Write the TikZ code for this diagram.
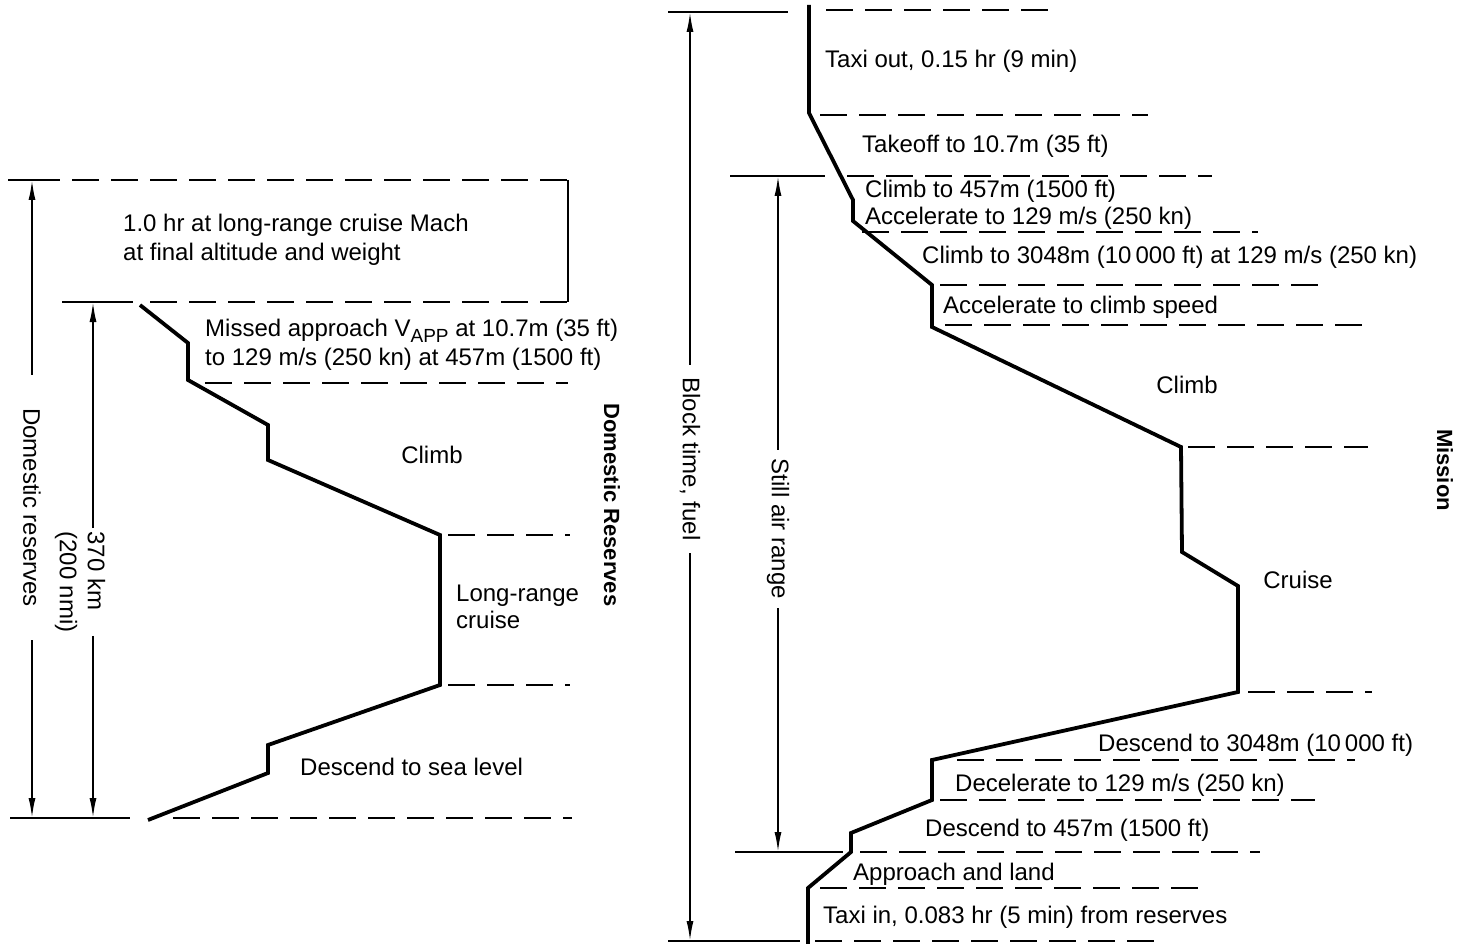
\documentclass[tikz,border=0pt]{standalone}
\usepackage{fontspec}
\setmainfont{Liberation Sans}
\usetikzlibrary{arrows.meta}
\begin{document}
\begin{tikzpicture}[x=1pt,y=-1pt,
  profile/.style={line width=3.8pt, line join=miter},
  guide/.style={line width=2.2pt, dash pattern=on 27pt off 12pt},
  solidref/.style={line width=2.2pt},
  dim/.style={line width=1.8pt, -{Latex[length=20pt,width=7pt]}},
  lbl/.style={font=\fontsize{24}{28}\selectfont, inner sep=0pt, anchor=base west},
  clbl/.style={font=\fontsize{24}{28}\selectfont, inner sep=0pt, anchor=base},
  vlbl/.style={font=\fontsize{24}{28}\selectfont, inner ysep=0pt, rotate=-90},
  title/.style={font=\fontsize{22}{26}\selectfont\bfseries, inner sep=0pt, rotate=-90}
]
\useasboundingbox (0,0) rectangle (1464,944);
\fill[white] (0,0) rectangle (1464,944);

% ================= LEFT: Domestic reserves =================
% reference lines
\draw[solidref] (8,180) -- (60,180);
\draw[guide] (72,180) -- (568,180);
\draw[solidref] (568,180) -- (568,302);
\draw[solidref] (62,302) -- (133,302);
\draw[guide] (150,302) -- (568,302);
\draw[guide] (205,383) -- (568,383);
\draw[guide] (448,535) -- (570,535);
\draw[guide] (448,685) -- (570,685);
\draw[solidref] (10,818) -- (130,818);
\draw[guide] (173,818) -- (572,818);

% profile
\draw[profile] (140,305) -- (188,343) -- (188,380) -- (268,425) -- (268,460)
  -- (440,535) -- (440,685) -- (268,745) -- (268,773) -- (148,820);

% dimension arrows
\coordinate (drTop) at (32,180);
\coordinate (drBot) at (32,818);
\node[vlbl, inner xsep=33pt] (dr) at (32,507.5) {Domestic reserves};
\draw[dim] (dr.west) -- (drTop);
\draw[dim] (dr.east) -- (drBot);

\coordinate (kmTop) at (93,302);
\coordinate (kmBot) at (93,818);
\node[vlbl, inner xsep=3pt, align=left] (km) at (80,582) {370 km\\(200 nmi)};
\draw[dim] (km.west -| kmTop) -- (kmTop);
\draw[dim] (km.east -| kmBot) -- (kmBot);

% texts
\node[lbl] (t1) at (123,232) {1.0 hr at long-range cruise Mach};
\node[lbl] (t2) at (123,260) {at final altitude and weight};
\node[lbl] (t3) at (205,336) {Missed approach V\raisebox{-6pt}{\fontsize{19}{20}\selectfont APP} at 10.7m (35 ft)};
\node[lbl] (t4) at (205,365) {to 129 m/s (250 kn) at 457m (1500 ft)};
\node[clbl] (t5) at (432,463) {Climb};
\node[lbl] (t6) at (456,601) {Long-range};
\node[lbl] (t7) at (456,628) {cruise};
\node[lbl] (t8) at (300,775) {Descend to sea level};
\node[title] (dres) at (612,505) {Domestic Reserves};

% ================= RIGHT: Mission =================
\draw[solidref] (668,12) -- (788,12);
\draw[guide] (826,10) -- (1052,10);
\draw[guide] (820,115) -- (1148,115);
\draw[solidref] (730,176) -- (825,176);
\draw[guide] (847,176) -- (1212,176);
\draw[guide] (862,232) -- (1258,232);
\draw[guide] (940,285) -- (1322,285);
\draw[guide] (945,325) -- (1368,325);
\draw[guide] (1188,447) -- (1368,447);
\draw[guide] (1248,692) -- (1372,692);
\draw[guide] (957,760) -- (1355,760);
\draw[guide] (940,800) -- (1315,800);
\draw[solidref] (735,852) -- (843,852);
\draw[guide] (860,852) -- (1260,852);
\draw[guide] (820,888) -- (1198,888);
\draw[solidref] (668,941) -- (800,941);
\draw[guide] (815,941) -- (1162,941);

% profile
\draw[profile] (809,5) -- (809,113) -- (853,200) -- (853,221) -- (932,285) -- (932,327)
  -- (1181,447) -- (1182,552) -- (1238,586) -- (1238,692) -- (932,760) -- (932,800)
  -- (851,833) -- (851,852) -- (808,888) -- (808,944);

% dimension arrows
\coordinate (btTop) at (690,12);
\coordinate (btBot) at (690,941);
\node[vlbl, inner xsep=12.5pt] (bt) at (690,459) {Block time, fuel};
\draw[dim] (bt.west) -- (btTop);
\draw[dim] (bt.east) -- (btBot);

\coordinate (saTop) at (778,176);
\coordinate (saBot) at (778,852);
\node[vlbl, inner xsep=9pt] (sa) at (778,529) {Still air range};
\draw[dim] (sa.west) -- (saTop);
\draw[dim] (sa.east) -- (saBot);

% texts
\node[lbl] (m1) at (825,68) {Taxi out, 0.15 hr (9 min)};
\node[lbl] (m2) at (862,153) {Takeoff to 10.7m (35 ft)};
\node[lbl] (m3) at (865,198) {Climb to 457m (1500 ft)};
\node[lbl] (m4) at (865,225) {Accelerate to 129 m/s (250 kn)};
\node[lbl] (m5) at (922,263) {Climb to 3048m (10\,000 ft) at 129 m/s (250 kn)};
\node[lbl] (m6) at (943,313) {Accelerate to climb speed};
\node[clbl] (m7) at (1187,393) {Climb};
\node[clbl] (m8) at (1298,588) {Cruise};
\node[lbl] (m9) at (1098,751) {Descend to 3048m (10\,000 ft)};
\node[lbl] (m10) at (955,791) {Decelerate to 129 m/s (250 kn)};
\node[lbl] (m11) at (925,836) {Descend to 457m (1500 ft)};
\node[lbl] (m12) at (853,880) {Approach and land};
\node[lbl] (m13) at (823,923) {Taxi in, 0.083 hr (5 min) from reserves};
\node[title] (mis) at (1445,470) {Mission};
\end{tikzpicture}
\end{document}
